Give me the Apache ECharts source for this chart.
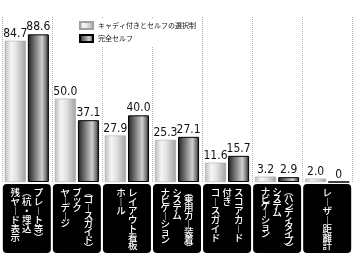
<!DOCTYPE html>
<html>
<head>
<meta charset="utf-8">
<script src="https://cdn.jsdelivr.net/npm/echarts@6/dist/echarts.min.js"></script>
<style>html,body{margin:0;padding:0;background:#fff;}#c{width:354px;height:260px;}</style>
</head>
<body>
<div id="c"></div>
<script>
const categories = ['残ヤード表示(杭・埋込プレート等)', 'ヤーデージブック(コースガイド)', 'ホールレイアウト看板', 'ナビゲーションシステム(乗用カー装着)', 'コースガイド付きスコアカード', 'ナビゲーションシステム(ハンディタイプ)', 'レーザー距離計'];
const labelColumns = [
  ['残ヤード表示', '(杭・埋込', 'プレート等)'],
  ['ヤーデージ', 'ブック', '(コースガイド)'],
  ['ホール', 'レイアウト看板'],
  ['ナビゲーション', 'システム', '(乗用カー装着)'],
  ['コースガイド', '付き', 'スコアカード'],
  ['ナビゲーション', 'システム', '(ハンディタイプ)'],
  ['レーザー距離計']
];
const seriesNames = ['キャディ付きとセルフの選択制', '完全セルフ'];
const choiceValues = [84.7, 50.0, 27.9, 25.3, 11.6, 3.2, 2.0];
const selfValues = [88.6, 37.1, 40.0, 27.1, 15.7, 2.9, 0];

function vert(ch) {
  if (ch === '(') return '︵';
  if (ch === ')') return '︶';
  if (ch === 'ー') return '︱';
  return ch;
}
function buildLabel(idx) {
  const cols = labelColumns[idx].map(s => Array.from(s).map(vert));
  const n = Math.max(...cols.map(c => c.length));
  const key = 'l' + n;
  const lines = [];
  for (let i = 0; i < n; i++) {
    lines.push('{' + key + '|' + cols.map(c => c[i] || '　').join(' ') + '}');
  }
  return lines.join('\n');
}
const rich = {};
for (let n = 1; n <= 10; n++) {
  rich['l' + n] = {
    color: '#fff', fontSize: 9.5, fontWeight: 500,
    fontFamily: 'Noto Sans CJK JP',
    lineHeight: Math.min(8.9, 63 / n)
  };
}

const lightGrad = new echarts.graphic.LinearGradient(0, 0, 1, 0, [
  {offset: 0, color: '#bcbcbc'}, {offset: 0.3, color: '#f6f6f6'},
  {offset: 0.55, color: '#e2e2e2'}, {offset: 1, color: '#a2a2a2'}
]);
const darkGrad = new echarts.graphic.LinearGradient(0, 0, 1, 0, [
  {offset: 0, color: '#1a1a1a'}, {offset: 0.15, color: '#474747'},
  {offset: 0.68, color: '#cfcfcf'}, {offset: 0.88, color: '#6e6e6e'}, {offset: 1, color: '#111'}
]);
const valueLabel = {
  show: true, position: 'top', distance: 1, color: '#111',
  fontSize: 12, fontFamily: "'DejaVu Sans Condensed', sans-serif",
  formatter: p => p.value === 0 ? '0' : p.value.toFixed(1)
};

const chart = echarts.init(document.getElementById('c'), null, {renderer: 'canvas'});
chart.setOption({
  animation: false,
  backgroundColor: '#fff',
  legend: {
    data: seriesNames, orient: 'vertical', left: 76, top: 18,
    padding: [3, 3, 3, 3], itemWidth: 13, itemHeight: 7, itemGap: 4,
    backgroundColor: '#fff', icon: 'rect',
    textStyle: {fontSize: 7, color: '#111', fontFamily: 'Noto Sans CJK JP', lineHeight: 7}
  },
  grid: {left: 0, right: 1, top: 17, bottom: 78, containLabel: false},
  xAxis: {
    type: 'category', data: categories,
    axisLine: {show: false}, axisTick: {show: false},
    splitLine: {show: true, lineStyle: {color: '#b0b0b0', type: [1, 1], width: 1}},
    axisLabel: {
      interval: 0, margin: 2,
      formatter: (v, i) => buildLabel(i),
      rich: rich,
      backgroundColor: '#000', borderRadius: 4,
      width: 48, height: 65, padding: [4, 0, 0, 0],
      align: 'center', verticalAlign: 'top'
    }
  },
  yAxis: {type: 'value', min: 0, max: 99, show: false, splitLine: {show: false}},
  series: [
    {name: seriesNames[0], type: 'bar', data: choiceValues, barWidth: 21, barGap: '10%',
     itemStyle: {color: lightGrad, borderColor: '#a0a0a0', borderWidth: 0.5}, label: valueLabel},
    {name: seriesNames[1], type: 'bar', data: selfValues, barWidth: 21, barGap: '10%',
     itemStyle: {color: darkGrad, borderColor: '#000', borderWidth: 1}, label: valueLabel}
  ]
});
</script>
</body>
</html>
